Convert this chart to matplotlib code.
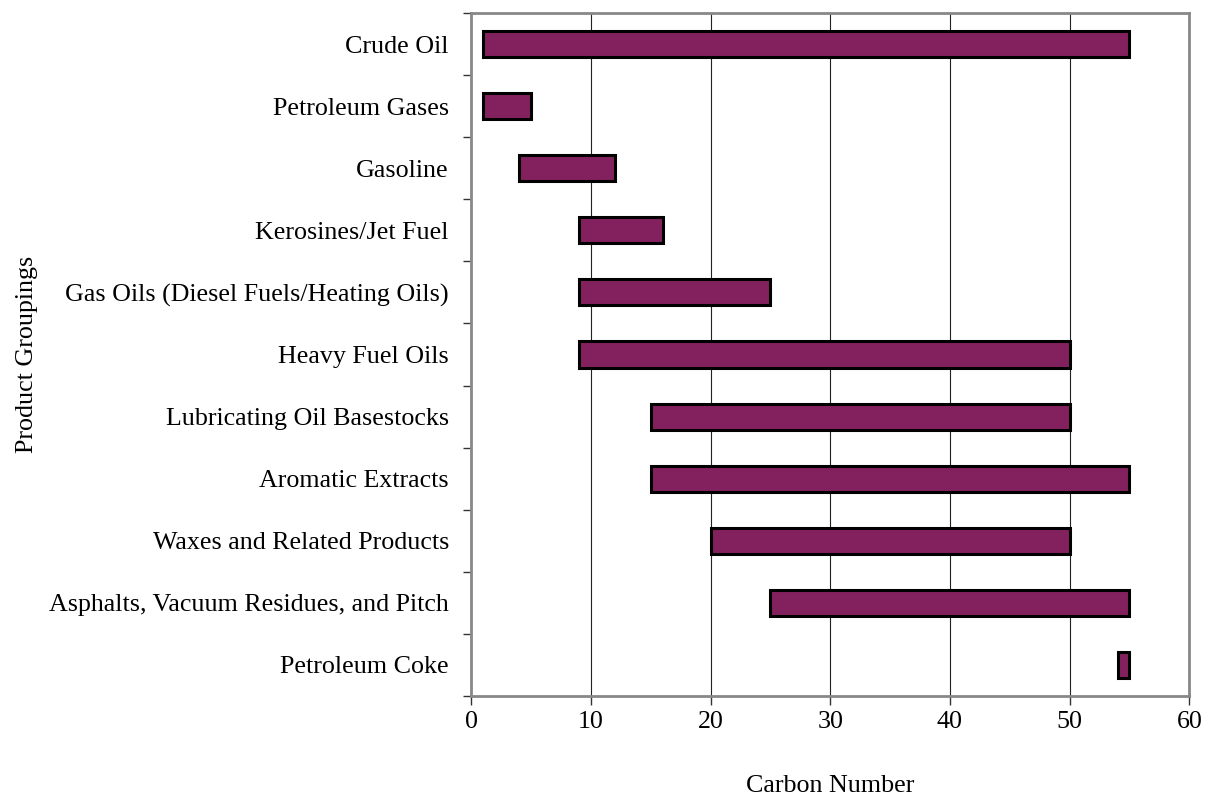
import numpy as np
import matplotlib.pyplot as plt

products = ['Crude Oil', 'Petroleum Gases', 'Gasoline', 'Kerosines/Jet Fuel',
            'Gas Oils (Diesel Fuels/Heating Oils)', 'Heavy Fuel Oils',
            'Lubricating Oil Basestocks', 'Aromatic Extracts',
            'Waxes and Related Products', 'Asphalts, Vacuum Residues, and Pitch',
            'Petroleum Coke']
c_low = [1, 1, 4, 9, 9, 9, 15, 15, 20, 25, 54]
c_high = [55, 5, 12, 16, 25, 50, 50, 55, 50, 55, 55]

plt.rcParams['font.family'] = ['Liberation Serif', 'DejaVu Serif']

fig = plt.figure(figsize=(12.05, 7.95), dpi=100)
ax = fig.add_axes([0.391, 0.1245, 0.596, 0.8591])

n = len(products)
y = np.arange(n)
widths = np.array(c_high) - np.array(c_low)
ax.barh(y, widths, left=c_low, height=0.42, color='#83215E',
        edgecolor='black', linewidth=2.2, zorder=3)

fs = 18.7
ax.set_xlim(0, 60)
ax.set_ylim(n - 0.5, -0.5)
ax.set_xticks(range(0, 61, 10))
ax.tick_params(axis='x', labelsize=fs, length=6.5, width=1, color='#333333', pad=4.5)

# category labels centred, tick marks on the boundaries
ax.set_yticks(y)
ax.set_yticklabels(products, fontsize=fs)
ax.tick_params(axis='y', which='major', length=0, pad=16)
ax.set_yticks(np.arange(-0.5, n, 1), minor=True)
ax.tick_params(axis='y', which='minor', length=6, width=1, color='#333333')

ax.grid(axis='x', color='#222222', linewidth=0.8, zorder=0)
for s in ax.spines.values():
    s.set_color('#888888')
    s.set_linewidth(2)

ax.set_xlabel('Carbon Number', fontsize=fs, labelpad=30)
ax.set_ylabel('Product Groupings', fontsize=fs, labelpad=8)

fig.savefig('out.png', dpi=100)
